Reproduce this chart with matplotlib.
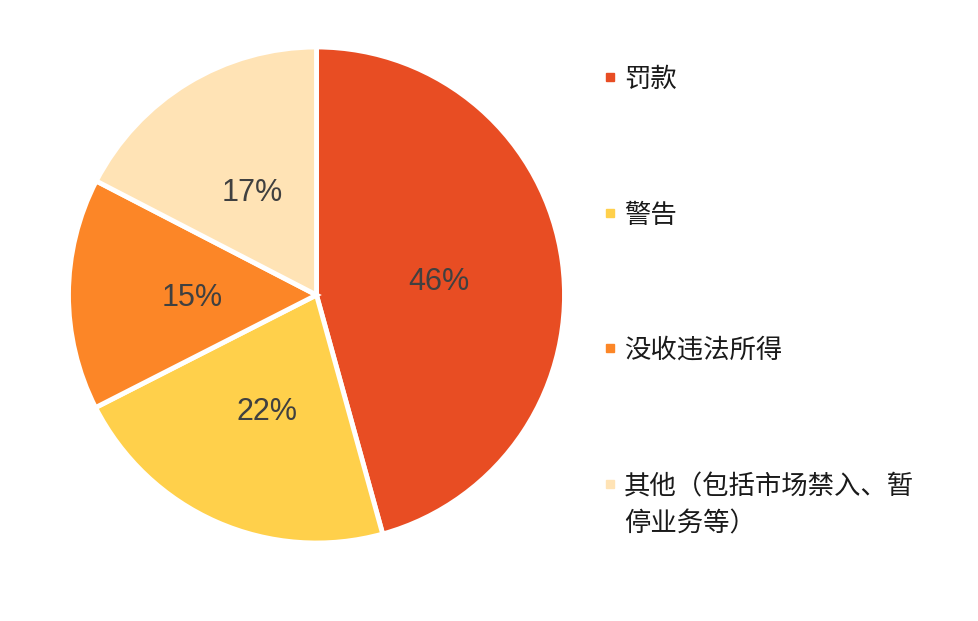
import matplotlib.pyplot as plt
from matplotlib.patches import Rectangle

plt.rcParams['font.family'] = ['Liberation Sans', 'Noto Sans CJK SC', 'DejaVu Sans']

labels = ['罚款', '警告', '没收违法所得', '其他（包括市场禁入、暂\n停业务等）']
shares = [45.7, 21.8, 15.1, 17.4]
colors = ['#E84D23', '#FFD04B', '#FC8627', '#FFE3B5']

fig = plt.figure(figsize=(9.79, 6.21), dpi=100)

# pie centred at about (316, 295) px, radius ~248 px
cx, cy, r = 316.5, 295, 248
ax = fig.add_axes([(cx - r) / 979, (621 - cy - r) / 621, 2 * r / 979, 2 * r / 621])
wedges, texts, autotexts = ax.pie(
    shares, colors=colors, startangle=90, counterclock=False,
    autopct='%.0f%%', pctdistance=0.5,
    wedgeprops=dict(edgecolor='white', linewidth=3.5),
    textprops=dict(color='#404040', fontsize=22))
for t in autotexts:
    t.set_va('center_baseline')
ax.set_xlim(-1.0, 1.0)
ax.set_ylim(-1.0, 1.0)
ax.set_aspect('equal')
ax.axis('off')

# legend drawn by hand on the right
ys = [77, 213, 348, 484]
for lab, col, y in zip(labels, colors, ys):
    fig.patches.append(Rectangle((606 / 979, 1 - (y + 4) / 621), 8 / 979, 8 / 621,
                                 transform=fig.transFigure, color=col))
    fig.text(624 / 979, 1 - (y - 11) / 621, lab, fontsize=19, color='#1a1a1a',
             va='top', ha='left', linespacing=1.5,
             family=['Noto Sans CJK SC', 'DejaVu Sans'])

fig.savefig('out.png', dpi=100)
